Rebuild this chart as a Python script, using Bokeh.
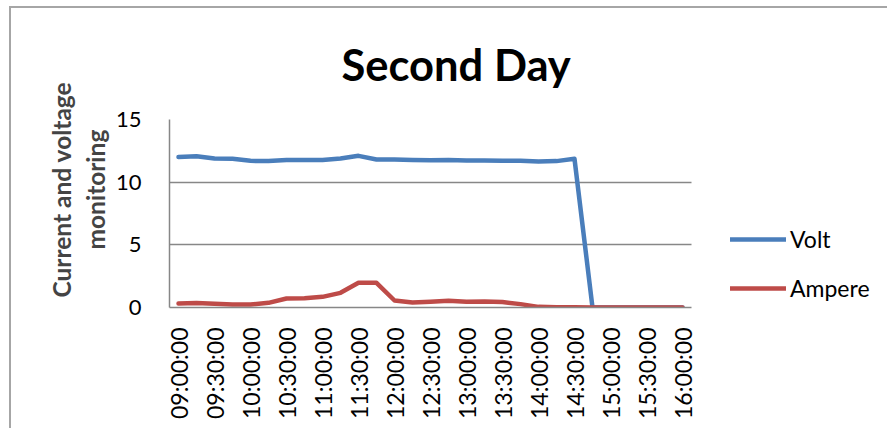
from bokeh.plotting import figure
from bokeh.models import Range1d, Legend, LegendItem, Title, FixedTicker
from bokeh.embed import file_html
from bokeh.resources import INLINE
import math

times = ["09:00:00", "09:15:00", "09:30:00", "09:45:00", "10:00:00", "10:15:00",
         "10:30:00", "10:45:00", "11:00:00", "11:15:00", "11:30:00", "11:45:00",
         "12:00:00", "12:15:00", "12:30:00", "12:45:00", "13:00:00", "13:15:00",
         "13:30:00", "13:45:00", "14:00:00", "14:15:00", "14:30:00", "14:45:00",
         "15:00:00", "15:15:00", "15:30:00", "15:45:00", "16:00:00"]
tick_labels = ["09:00:00", "09:30:00", "10:00:00", "10:30:00", "11:00:00", "11:30:00",
               "12:00:00", "12:30:00", "13:00:00", "13:30:00", "14:00:00", "14:30:00",
               "15:00:00", "15:30:00", "16:00:00"]
volt = [12.0, 12.07, 11.89, 11.86, 11.7, 11.68, 11.76, 11.76, 11.76, 11.89, 12.1, 11.81,
        11.81, 11.76, 11.74, 11.76, 11.73, 11.73, 11.7, 11.7, 11.65, 11.68, 11.86,
        0.0, 0.0, 0.0, 0.0, 0.0, 0.0]
ampere = [0.32, 0.35, 0.29, 0.24, 0.24, 0.37, 0.72, 0.74, 0.85, 1.17, 1.97, 1.97,
          0.56, 0.4, 0.45, 0.53, 0.45, 0.48, 0.43, 0.27, 0.05, 0.02, 0.01,
          0.0, 0.0, 0.0, 0.0, 0.0, 0.0]
y_ticks = [0, 5, 10, 15]

FONT = "Lato"
GRID = "#878787"

x = list(range(len(times)))
tick_pos = [times.index(t) for t in tick_labels]

W, H = 878, 422
BL, BT, BB = 158, 111, 123
frame_w = W - BL
data_w = 522  # pixel width of the category area
x_start = -0.5
x_stop = len(times) - 0.5
x_end = x_start + frame_w * len(times) / data_w

p = figure(width=W, height=H, x_range=Range1d(x_start, x_end),
           y_range=Range1d(0, 15), output_backend="svg", toolbar_location=None,
           min_border_left=BL, min_border_right=0, min_border_top=BT,
           min_border_bottom=BB)
p.styles = {"border-left": "2px solid #a6a6a6", "border-top": "2px solid #a6a6a6",
            "margin-left": "9px", "margin-top": "6px"}
p.outline_line_color = None
p.background_fill_color = "white"
p.border_fill_color = "white"

p.title.text = "Second Day"
p.title.text_font = FONT
p.title.text_font_size = "43.5px"
p.title.text_font_style = "bold"
p.title.text_color = "black"
p.title.align = "left"
p.title.vertical_align = "top"
p.title.offset = 172
p.title.standoff = 56

t2 = Title(text="monitoring", align="left", offset=58, text_font=FONT,
           text_font_size="24.5px", text_font_style="bold", standoff=6)
t1 = Title(text="Current and voltage", align="left", offset=10, text_font=FONT,
           text_font_size="24.5px", text_font_style="bold", standoff=0)
p.add_layout(t2, "left")
p.add_layout(t1, "left")

l1 = p.line(x, volt, line_color="#4a7ebb", line_width=4.5,
            line_join="round", line_cap="round")
l2 = p.line(x, ampere, line_color="#be4b48", line_width=4.5,
            line_join="round", line_cap="round")

p.yaxis.ticker = FixedTicker(ticks=y_ticks)
p.yaxis.major_tick_line_color = None
p.yaxis.minor_tick_line_color = None
p.yaxis.axis_line_color = GRID
p.yaxis.axis_line_width = 1.5
p.yaxis.major_label_text_font = FONT
p.yaxis.major_label_text_font_size = "22px"
p.yaxis.major_label_text_color = "black"
p.yaxis.major_label_standoff = 22

p.xaxis.ticker = FixedTicker(ticks=tick_pos)
p.xaxis.major_label_overrides = {i: t for i, t in zip(tick_pos, tick_labels)}
p.xaxis.major_label_orientation = math.pi / 2
p.xaxis.major_tick_line_color = None
p.xaxis.minor_tick_line_color = None
p.xaxis.axis_line_color = GRID
p.xaxis.axis_line_width = 1.5
p.xaxis.bounds = (x_start, x_stop)
p.xaxis.major_label_text_font = FONT
p.xaxis.major_label_text_font_size = "23px"
p.xaxis.major_label_text_color = "black"
p.xaxis.major_label_standoff = 14

p.xgrid.grid_line_color = None
yg = p.ygrid[0]
yg.ticker = FixedTicker(ticks=y_ticks)
if "cross_bounds" in yg.properties():
    yg.grid_line_color = GRID
    yg.grid_line_width = 1.5
    yg.cross_bounds = (x_start, x_stop)
else:
    yg.grid_line_color = None
    p.segment(x0=[x_start] * len(y_ticks), x1=[x_stop] * len(y_ticks),
              y0=y_ticks, y1=y_ticks, line_color=GRID, line_width=1.5,
              level="underlay")

legend = Legend(items=[LegendItem(label="Volt", renderers=[l1]),
                       LegendItem(label="Ampere", renderers=[l2])],
                location=(561, 5), padding=0, margin=0, spacing=21,
                glyph_width=56, glyph_height=28, label_height=28,
                label_standoff=4, label_text_font=FONT,
                label_text_font_size="23px", label_text_color="black",
                border_line_color=None, background_fill_alpha=0)
p.add_layout(legend, "center")

open("out.html", "w").write(file_html(p, INLINE))
